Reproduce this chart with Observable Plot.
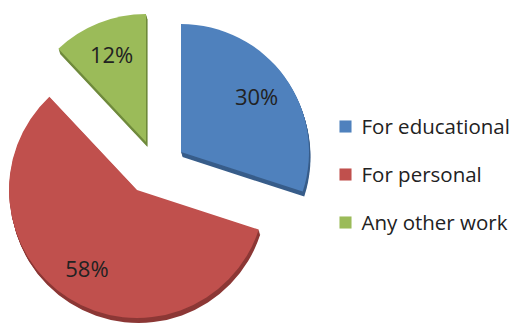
<!DOCTYPE html>
<html><head><meta charset="utf-8">
<script src="https://cdn.jsdelivr.net/npm/d3@7"></script>
<script src="https://cdn.jsdelivr.net/npm/@observablehq/plot@0.6"></script>
<style>body{margin:0;background:#fff;} #chart svg{font-family:"Open Sans",sans-serif;}</style>
</head><body><div id="chart"></div>
<script>
const categories = ["For educational", "For personal", "Any other work"];
const values = [30, 58, 12];
const labels = ["30%", "58%", "12%"];
const colors = ["#4f81bd", "#c0504d", "#9bbb59"];
const edgeColors = ["#385d8a", "#8c3836", "#6f8a3c"];
// explode offsets of each slice from the pie centre (pixels)
const explodeOffsets = [[30, -18], [-14, 20], [-5, -28]];

const data = categories.map((c, i) => ({category: c, value: values[i], label: labels[i]}));
const pie = d3.pie().sort(null).value(d => d.value)(data);

function pieMark(index, scales, vals, dims) {
  const cx = 151, cy = 170, r = 128, depth = 5;
  const arc = d3.arc().innerRadius(0).outerRadius(r);
  const g = d3.create("svg:g");
  pie.forEach((p, i) => {
    const mid = (p.startAngle + p.endAngle) / 2;
    const ox = cx + explodeOffsets[i][0], oy = cy + explodeOffsets[i][1];
    const s = g.append("g").attr("transform", `translate(${ox},${oy})`);
    for (let k = depth; k > 0; k--)
      s.append("path").attr("d", arc(p)).attr("transform", `translate(${k * 0.3},${k})`).attr("fill", edgeColors[i]);
    s.append("path").attr("d", arc(p)).attr("fill", scales.color(p.data.category));
    const lr = r * 0.73;
    s.append("text").attr("x", lr * Math.sin(mid)).attr("y", -lr * Math.cos(mid))
      .attr("text-anchor", "middle").attr("dy", "0.35em")
      .attr("font-size", 22).attr("fill", "#222").text(p.data.label);
  });
  return g.node();
}

const chart = Plot.plot({
  width: 521, height: 330,
  margin: 0,
  style: {fontFamily: "'Open Sans', sans-serif", background: "#fff"},
  color: {domain: categories, range: colors},
  y: {type: "point", domain: categories, range: [126, 222], padding: 0, axis: null},
  marks: [
    pieMark,
    Plot.dot(data, {y: "category", fill: "category", symbol: "square", r: 6.8, frameAnchor: "left", dx: 345, stroke: null}),
    Plot.text(data, {y: "category", text: "category", frameAnchor: "left", dx: 361, dy: 1, textAnchor: "start", fontSize: 20.5, fill: "#222"})
  ]
});
document.getElementById("chart").appendChild(chart);
</script>
</body></html>
